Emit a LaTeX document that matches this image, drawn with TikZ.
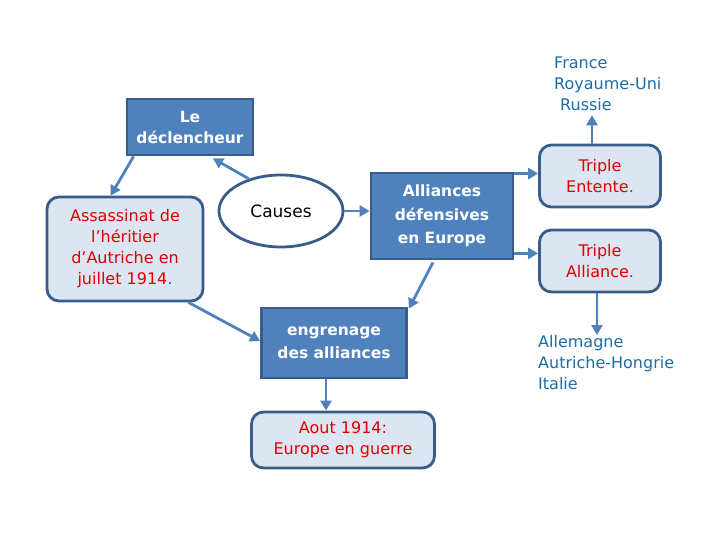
\documentclass[tikz,border=0pt]{standalone}
\usepackage{fontspec}
\setmainfont{DejaVu Sans}
\usetikzlibrary{shapes.geometric,calc,arrows.meta}
\definecolor{boxblue}{HTML}{4F81BD}
\definecolor{edgeblue}{HTML}{385D8A}
\definecolor{lightfill}{HTML}{DCE6F2}
\definecolor{txtred}{HTML}{DC0000}
\definecolor{txtblue}{HTML}{1F6BA5}
\tikzset{
  darkbox/.style={draw=edgeblue,line width=2.8pt,fill=boxblue,text=white,font=\fontsize{15.5}{23.5}\selectfont\bfseries,align=center,inner sep=0pt},
  lightbox/.style={draw=edgeblue,line width=2.8pt,fill=lightfill,text=txtred,rounded corners=12pt,font=\fontsize{16}{21}\selectfont,align=center,inner sep=0pt},
  listtext/.style={text=txtblue,font=\fontsize{16}{21}\selectfont,align=left,inner sep=0pt,anchor=north west},
  arr/.style={draw=boxblue,line width=2.8pt,-{Triangle[length=10pt,width=11pt]}},
}
\begin{document}
\begin{tikzpicture}[x=1pt,y=-1pt]
\useasboundingbox (0,0) rectangle (720,540);
\node[darkbox,minimum width=126pt,minimum height=56pt,font=\fontsize{15.5}{21}\selectfont\bfseries] (decl) at (190,127) {Le\\déclencheur};
\node[lightbox,minimum width=156pt,minimum height=104pt] (assas) at (125,249) {Assassinat de\\l’héritier\\d’Autriche en\\juillet 1914{\color{edgeblue}.}};
\node[ellipse,draw=edgeblue,line width=2.8pt,fill=white,minimum width=124pt,minimum height=72pt,inner sep=0pt,font=\fontsize{17}{20}\selectfont] (causes) at (281,211) {Causes};
\node[darkbox,minimum width=142pt,minimum height=86pt] (alli) at (442,216) {Alliances\\défensives\\en Europe};
\node[lightbox,minimum width=121pt,minimum height=62pt] (entente) at (600,176) {Triple\\Entente{\color{edgeblue}.}};
\node[lightbox,minimum width=121pt,minimum height=62pt] (alliance) at (600,261) {Triple\\Alliance{\color{edgeblue}.}};
\node[listtext] (france) at (554,57) {France\\Royaume-Uni\\\hspace*{6pt}Russie};
\node[listtext] (allem) at (538,335) {Allemagne\\Autriche-Hongrie\\Italie};
\node[darkbox,minimum width=145pt,minimum height=70pt] (engren) at (334,343) {engrenage\\des alliances};
\node[lightbox,minimum width=183pt,minimum height=56pt] (aout) at (343,440) {Aout 1914:\\Europe en guerre};
% connectors
\draw[arr] (causes.135) -- ($(decl.south)+(23,2)$);
\draw[arr] ($(decl.south west)+(8,0)$) -- ($(assas.north west)+(65,0)$);
\draw[arr] (causes.east) -- (alli.west |- causes.east);
\draw[arr] ($(assas.south east)+(-16,0)$) -- ($(engren.west)+(0,-2)$);
\draw[arr] ($(alli.south)+(-9,2)$) -- ($(engren.north east)+(1,2)$);
\draw[arr] ([xshift=-8pt]engren.south) -- ([xshift=-8pt]engren.south |- aout.north);
\draw[arr] ([yshift=-2pt]alli.north east) -- ([yshift=-2pt]alli.north east -| entente.west);
\draw[arr] ([yshift=7pt]alli.south east) -- ([yshift=7pt]alli.south east -| alliance.west);
\draw[arr] ([xshift=-8pt]entente.north) -- ([xshift=-8pt,yshift=-4pt]entente.north |- france.south);
\draw[arr] ([xshift=-3pt]alliance.south) -- ([xshift=-3pt]alliance.south |- allem.north);
\end{tikzpicture}
\end{document}
